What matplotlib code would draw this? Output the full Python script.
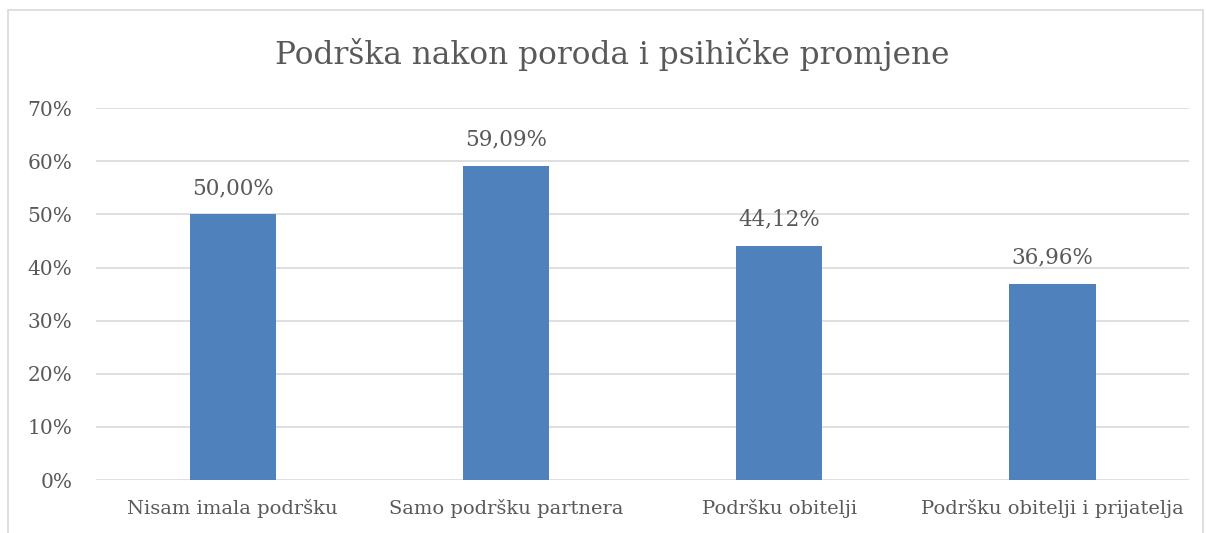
import matplotlib.pyplot as plt
from matplotlib.patches import Rectangle
from matplotlib.ticker import PercentFormatter

categories = ["Nisam imala podršku", "Samo podršku partnera", "Podršku obitelji", "Podršku obitelji i prijatelja"]
values = [50.00, 59.09, 44.12, 36.96]
yticks = [0, 10, 20, 30, 40, 50, 60, 70]

plt.rcParams["font.family"] = ["DejaVu Serif"]
text_color = "#595959"

fig = plt.figure(figsize=(12.06, 5.33), dpi=100)
ax = fig.add_axes([0.0796, 0.0994, 0.9064, 0.6976])

# outer chart border, bottom runs past the image edge
fig.patches.append(Rectangle((8 / 1206, -0.05), 1195 / 1206, 1.05 - 10 / 533,
                             transform=fig.transFigure, fill=False,
                             edgecolor="#D9D9D9", linewidth=1.2))

x = range(len(categories))
bars = ax.bar(x, values, width=0.315, color="#4F81BD", zorder=3)
for rect, v in zip(bars, values):
    ax.annotate(f"{v:.2f}%".replace(".", ","), (rect.get_x() + rect.get_width() / 2, v),
                xytext=(0, 11), textcoords="offset points", ha="center", va="bottom",
                fontsize=15.5, color=text_color)

ax.set_xlim(-0.5, len(categories) - 0.5)
ax.set_ylim(0, 70)
ax.set_yticks(yticks)
ax.yaxis.set_major_formatter(PercentFormatter(decimals=0))
ax.set_xticks(list(x))
ax.set_xticklabels(categories)
ax.tick_params(axis="both", length=0, labelsize=14, colors=text_color)
ax.tick_params(axis="y", labelsize=14.5, pad=17)
ax.tick_params(axis="x", pad=14)
ax.grid(axis="y", color="#D9D9D9", linewidth=1.2, zorder=0)
for s in ax.spines.values():
    s.set_visible(False)

fig.text(0.508, 0.897, "Podrška nakon poroda i psihičke promjene", ha="center", va="center",
         fontsize=22.5, color=text_color)

fig.savefig("out.png", dpi=100)
